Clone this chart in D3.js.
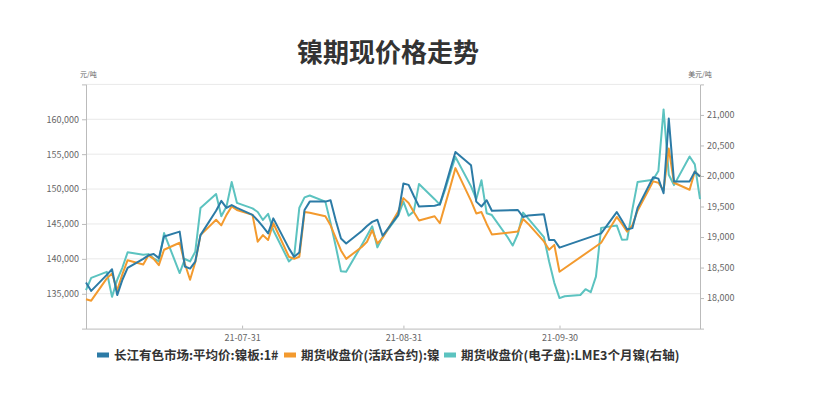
<!DOCTYPE html>
<html><head><meta charset="utf-8">
<script src="https://cdn.jsdelivr.net/npm/d3@7"></script>
<style>
html,body{margin:0;padding:0;background:#fff;}
svg{display:block;}
text{font-family:"Noto Sans CJK SC","Noto Sans",sans-serif;}
</style></head>
<body>
<svg id="chart" width="837" height="399"></svg>
<script>
const title = "镍期现价格走势";
const seriesNames = ["长江有色市场:平均价:镍板:1#", "期货收盘价(活跃合约):镍", "期货收盘价(电子盘):LME3个月镍(右轴)"];
const colors = ["#2C7BA6", "#F39A2E", "#5CC3C0"];
const leftUnit = "元/吨", rightUnit = "美元/吨";
const xTicks = ["2021-07-31", "2021-08-31", "2021-09-30"];
const leftTicks = [135000, 140000, 145000, 150000, 155000, 160000];
const rightTicks = [18000, 18500, 19000, 19500, 20000, 20500, 21000];

const cnDates = [
 "2021-07-01","2021-07-02","2021-07-05","2021-07-06","2021-07-07","2021-07-08","2021-07-09","2021-07-12","2021-07-13","2021-07-14","2021-07-15","2021-07-16","2021-07-19","2021-07-20","2021-07-21","2021-07-22","2021-07-23","2021-07-26","2021-07-27","2021-07-28","2021-07-29","2021-07-30",
 "2021-08-02","2021-08-03","2021-08-04","2021-08-05","2021-08-06","2021-08-09","2021-08-10","2021-08-11","2021-08-12","2021-08-13","2021-08-16","2021-08-17","2021-08-18","2021-08-19","2021-08-20","2021-08-23","2021-08-24","2021-08-25","2021-08-26","2021-08-27","2021-08-30","2021-08-31",
 "2021-09-01","2021-09-02","2021-09-03","2021-09-06","2021-09-07","2021-09-08","2021-09-09","2021-09-10","2021-09-13","2021-09-14","2021-09-15","2021-09-16","2021-09-17","2021-09-22","2021-09-23","2021-09-24","2021-09-27","2021-09-28","2021-09-29","2021-09-30",
 "2021-10-08","2021-10-11","2021-10-12","2021-10-13","2021-10-14","2021-10-15","2021-10-18","2021-10-19","2021-10-20","2021-10-21","2021-10-22","2021-10-25","2021-10-26","2021-10-27"];
const spotValues = [
 136600,135400,137700,138500,134800,137000,138700,140000,140500,140700,140100,143200,143900,138900,138600,139600,143400,146900,148300,147300,147700,147300,
 146300,145500,144600,143650,145800,141500,140300,140900,147000,148200,148200,148400,145500,142900,142200,144000,144700,145300,145600,143300,146300,150800,
 150600,149000,147500,147600,147800,150200,152800,155300,153400,148200,147500,148400,146900,147000,146000,146200,146400,142700,142700,141600,
 143650,146700,145500,144200,144400,147300,151700,151500,149400,160100,151100,151100,152500,151800];
const shfeValues = [
 134200,134000,137200,137900,135500,137800,139800,139200,140500,140000,139100,141300,142300,139300,137000,139500,143400,145600,144800,146300,147500,147000,
 146300,142450,143400,142700,145100,140300,140000,140300,146700,146600,146100,144800,143000,141200,140000,141700,142450,144100,142200,143000,146800,148700,
 148000,146700,145500,146100,145100,147700,150300,153000,148300,146500,146700,145000,143500,143900,145700,145000,142500,141300,142000,138150,
 142300,146000,145000,143900,144800,146900,151100,150900,149800,155800,150900,149900,152500,151800];
const lmeDates = [
 "2021-07-01","2021-07-02","2021-07-05","2021-07-06","2021-07-07","2021-07-08","2021-07-09","2021-07-12","2021-07-13","2021-07-14","2021-07-15","2021-07-16","2021-07-19","2021-07-20","2021-07-21","2021-07-22","2021-07-23","2021-07-26","2021-07-27","2021-07-28","2021-07-29","2021-07-30",
 "2021-08-02","2021-08-03","2021-08-04","2021-08-05","2021-08-06","2021-08-09","2021-08-10","2021-08-11","2021-08-12","2021-08-13","2021-08-16","2021-08-17","2021-08-18","2021-08-19","2021-08-20","2021-08-23","2021-08-24","2021-08-25","2021-08-26","2021-08-27","2021-08-30","2021-08-31",
 "2021-09-01","2021-09-02","2021-09-03","2021-09-06","2021-09-07","2021-09-08","2021-09-09","2021-09-10","2021-09-13","2021-09-14","2021-09-15","2021-09-16","2021-09-17","2021-09-20","2021-09-21","2021-09-22","2021-09-23","2021-09-24","2021-09-27","2021-09-28","2021-09-29","2021-09-30",
 "2021-10-01","2021-10-04","2021-10-05","2021-10-06","2021-10-07","2021-10-08","2021-10-11","2021-10-12","2021-10-13","2021-10-14","2021-10-15","2021-10-18","2021-10-19","2021-10-20","2021-10-21","2021-10-22","2021-10-25","2021-10-26","2021-10-27"];
const lmeValues = [
 18130,18330,18430,18020,18300,18500,18750,18710,18720,18650,18600,19065,18410,18640,18600,18760,19475,19705,19340,19500,19900,19560,
 19470,19410,19280,19380,19110,18600,18680,19480,19650,19680,19580,19230,18850,18440,18430,18870,19020,19175,18830,19000,19350,19580,
 19350,19420,19870,19620,19530,19770,20050,20310,19830,19620,19930,19390,19360,19000,18860,19050,19400,19300,19000,18600,18250,18000,
 18030,18050,18145,18096,18352,19150,19190,18955,18960,19450,19900,19940,20080,21090,20020,19850,20320,20190,19620];

const W = 837, H = 399;
const m = {left: 86, right: 137, top: 84.4, bottom: 70.4};
const parse = d3.timeParse("%Y-%m-%d");
const svg = d3.select("#chart");

const x = d3.scaleTime().domain([parse("2021-07-01"), parse("2021-10-27")]).range([m.left, W - m.right]);
const yL = d3.scaleLinear().domain([130000, 165000]).range([H - m.bottom, m.top]);
const yR = d3.scaleLinear().domain([17500, 21500]).range([H - m.bottom, m.top]);

// title
svg.append("text").attr("x", 388).attr("y", 62).attr("text-anchor", "middle")
  .attr("font-size", 26).attr("font-weight", "bold").attr("fill", "#333").text(title);

// grid
svg.append("g").selectAll("line").data(leftTicks.concat([165000])).join("line")
  .attr("x1", m.left).attr("x2", W - m.right)
  .attr("y1", d => yL(d)).attr("y2", d => yL(d))
  .attr("stroke", "#e9e9e9").attr("stroke-width", 1);

// axes
const gL = svg.append("g").attr("transform", `translate(${m.left},0)`)
  .call(d3.axisLeft(yL).tickValues(leftTicks).tickFormat(d3.format(",")).tickSize(4).tickPadding(3));
const gR = svg.append("g").attr("transform", `translate(${W - m.right},0)`)
  .call(d3.axisRight(yR).tickValues(rightTicks).tickFormat(d3.format(",")).tickSize(4).tickPadding(3));
const gB = svg.append("g").attr("transform", `translate(0,${H - m.bottom})`)
  .call(d3.axisBottom(x).tickValues(xTicks.map(parse)).tickFormat(d3.timeFormat("%y-%m-%d")).tickSize(-3).tickPadding(6));
[gL, gR, gB].forEach(g => {
  g.select(".domain").attr("stroke", "#bbb");
  g.selectAll(".tick line").attr("stroke", "#bbb");
  g.selectAll(".tick text").attr("fill", "#666").attr("font-size", 9)
    .attr("font-family", "'Open Sans','Noto Sans',sans-serif");
});

// units
svg.append("text").attr("x", 80).attr("y", 77).attr("font-size", 7).attr("fill", "#666").text(leftUnit);
svg.append("text").attr("x", 700).attr("y", 77).attr("text-anchor", "middle").attr("font-size", 7).attr("fill", "#666").text(rightUnit);

// lines
const cn = cnDates.map(parse), lme = lmeDates.map(parse);
const seriesData = [
  {pts: cn.map((d, i) => [d, spotValues[i]]), y: yL},
  {pts: cn.map((d, i) => [d, shfeValues[i]]), y: yL},
  {pts: lme.map((d, i) => [d, lmeValues[i]]), y: yR}
];
const drawOrder = [2, 1, 0];
drawOrder.forEach(k => {
  const s = seriesData[k];
  svg.append("path").datum(s.pts)
    .attr("fill", "none").attr("stroke", colors[k]).attr("stroke-width", 2)
    .attr("stroke-linejoin", "round")
    .attr("d", d3.line().x(p => x(p[0])).y(p => s.y(p[1])));
});

// legend
const legX = [97, 284, 444];
const lg = svg.append("g");
seriesNames.forEach((n, i) => {
  lg.append("rect").attr("x", legX[i]).attr("y", 352.5).attr("width", 12).attr("height", 5).attr("fill", colors[i]);
  lg.append("text").attr("x", legX[i] + 17).attr("y", 359.5).attr("font-size", 12.5)
    .attr("font-weight", "bold").attr("fill", "#333").text(n);
});
</script>
</body></html>
